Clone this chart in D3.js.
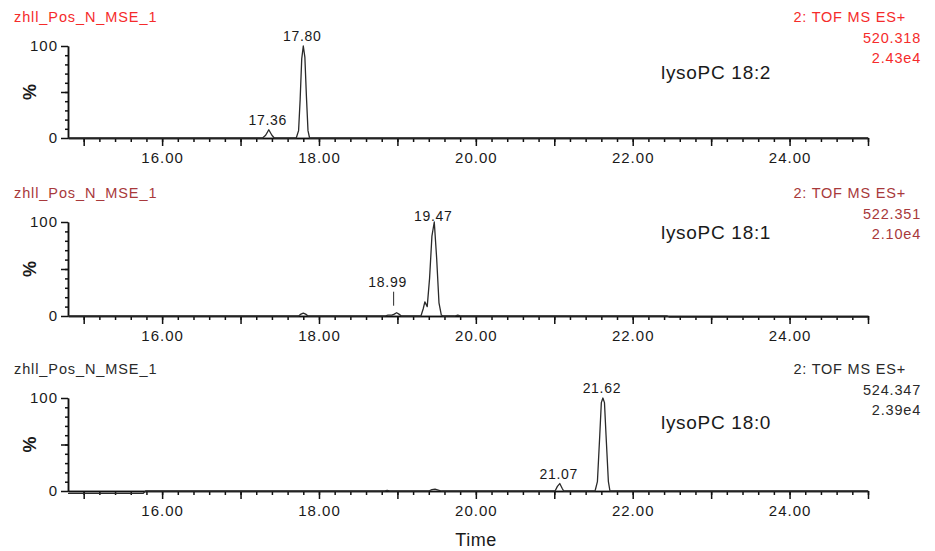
<!DOCTYPE html>
<html lang="en">
<head>
<meta charset="UTF-8">
<title>lysoPC chromatograms</title>
<script src="https://cdn.jsdelivr.net/npm/d3@7"></script>
<style>
  body { margin: 0; background: #fff; }
  text { font-family: "Liberation Sans", Arial, sans-serif; }
</style>
</head>
<body>
<script>
// time range of the x axis (min)
var timeRange = [14.8, 25.0];

// file name, channel info and compound for each trace
var sampleNames = ["zhll_Pos_N_MSE_1", "zhll_Pos_N_MSE_1", "zhll_Pos_N_MSE_1"];
var channels = ["2: TOF MS ES+", "2: TOF MS ES+", "2: TOF MS ES+"];
var masses = ["520.318", "522.351", "524.347"];
var intensities = ["2.43e4", "2.10e4", "2.39e4"];
var compounds = ["lysoPC 18:2", "lysoPC 18:1", "lysoPC 18:0"];

// traces: [time, %]
var trace182 = [[14.80,0],[17.28,0],[17.32,3],[17.36,9],[17.40,3],[17.43,0],[17.71,0],[17.74,8],[17.76,42],[17.78,86],[17.80,100],[17.82,88],[17.84,45],[17.86,8],[17.88,0],[25.00,0]];
var trace181 = [[14.80,0],[17.74,0],[17.77,2],[17.80,3],[17.83,2],[17.86,0],[18.84,0],[18.88,1],[18.93,1],[18.96,2],[18.99,3.5],[19.02,2],[19.05,0],[19.30,0],[19.33,8],[19.35,15],[19.38,10],[19.41,40],[19.44,85],[19.47,100],[19.50,62],[19.53,14],[19.56,1],[19.58,0],[19.73,0],[19.77,1],[19.81,0],[22.44,0],[22.47,-1.2],[25.00,-1.2]];
var trace180 = [[14.80,-2.5],[15.76,-2.5],[15.79,0],[18.84,0],[18.87,0.6],[18.90,0],[19.40,0],[19.44,1.5],[19.48,2],[19.52,1],[19.56,0],[21.01,0],[21.04,5],[21.07,8],[21.10,3],[21.12,0],[21.52,0],[21.55,10],[21.58,60],[21.60,95],[21.62,100],[21.64,95],[21.66,60],[21.69,10],[21.71,0],[25.00,0]];
var traces = [trace182, trace181, trace180];

// annotated peaks: [time, %]
var peaks182 = [[17.36, 9], [17.80, 100]];
var peaks181 = [[18.99, 3.5], [19.47, 100]];
var peaks180 = [[21.07, 8], [21.62, 100]];
var peakLabels = [peaks182, peaks181, peaks180];

var xMajorTicks = d3.range(15, 25.01, 1);
var xMinorTicks = d3.range(15, 25.01, 0.2);
var yMinorTicks = d3.range(10, 100, 10);

var width = 935, height = 551;
var titleColors = ["#f52b2b", "#a8393b", "#2a2a2a"];
var panelTops = [46, 222, 398];
var panelBottoms = [138, 316, 491];

var svg = d3.select("body").append("svg")
  .attr("width", width)
  .attr("height", height);

var x = d3.scaleLinear().domain(timeRange).range([68, 868]);

traces.forEach(function(trace, i) {
  var y = d3.scaleLinear().domain([0, 100]).range([panelBottoms[i], panelTops[i]]);
  var g = svg.append("g");
  var axisY = panelBottoms[i];

  // header texts
  g.append("text").attr("x", 14).attr("y", panelTops[i] - 24)
    .attr("font-size", 14.5).attr("letter-spacing", 0.9)
    .attr("fill", titleColors[i]).text(sampleNames[i]);
  var right = g.append("text").attr("text-anchor", "end")
    .attr("font-size", 14.5).attr("letter-spacing", 0.8).attr("fill", titleColors[i]);
  right.append("tspan").attr("x", 906).attr("y", panelTops[i] - 24).text(channels[i]);
  right.append("tspan").attr("x", 921).attr("y", panelTops[i] - 3).text(masses[i]);
  right.append("tspan").attr("x", 921).attr("y", panelTops[i] + 17).text(intensities[i]);

  g.append("text").attr("x", 661).attr("y", panelTops[i] + (i === 2 ? 31 : i === 1 ? 17 : 33))
    .attr("font-size", 19).attr("letter-spacing", 0.7)
    .attr("fill", "#1a1a1a").text(compounds[i]);

  // x axis: minor + major ticks
  var xMinor = g.append("g").attr("transform", "translate(0," + axisY + ")")
    .call(d3.axisBottom(x).tickValues(xMinorTicks).tickSize(4).tickSizeOuter(0).tickFormat(""));
  var xMajor = g.append("g").attr("transform", "translate(0," + axisY + ")")
    .call(d3.axisBottom(x).tickValues(xMajorTicks).tickSize(8).tickSizeOuter(0).tickPadding(6)
      .tickFormat(function(d) { return d % 2 === 0 ? d.toFixed(2) : ""; }));

  // y axis
  var yMinor = g.append("g").attr("transform", "translate(68,0)")
    .call(d3.axisLeft(y).tickValues(yMinorTicks).tickSize(3).tickSizeOuter(0).tickFormat(""));
  var yMajor = g.append("g").attr("transform", "translate(68,0)")
    .call(d3.axisLeft(y).tickValues([0, 50, 100]).tickSize(7).tickSizeOuter(0).tickPadding(3)
      .tickFormat(function(d) { return d === 50 ? "" : d; }));

  [xMinor, xMajor, yMinor, yMajor].forEach(function(a) {
    a.selectAll("path,line").attr("stroke", "#111").attr("stroke-width", 1.5);
    a.selectAll("text").attr("font-size", 15).attr("letter-spacing", 1).attr("fill", "#1a1a1a")
      .attr("font-family", "'Liberation Sans', Arial, sans-serif");
  });

  g.append("text")
    .attr("transform", "translate(36," + (panelTops[i] + panelBottoms[i]) / 2 + ") rotate(-90)")
    .attr("text-anchor", "middle").attr("font-size", 18).attr("font-weight", "bold")
    .attr("fill", "#1a1a1a").text("%");

  // trace
  var line = d3.line()
    .x(function(d) { return x(d[0]); })
    .y(function(d) { return y(d[1]); });
  g.append("path").datum(trace)
    .attr("d", line)
    .attr("fill", "none")
    .attr("stroke", "#2a2a2a")
    .attr("stroke-width", 1.3)
    .attr("stroke-linejoin", "round");

  // peak labels
  peakLabels[i].forEach(function(p) {
    var small = p[1] < 50;
    var px = x(p[0]), py = y(p[1]);
    if (i === 1 && small) {
      g.append("line").attr("x1", px - 3).attr("x2", px - 3)
        .attr("y1", py - 21).attr("y2", py - 7)
        .attr("stroke", "#2a2a2a").attr("stroke-width", 1);
      py = py - 26;
    } else {
      py = py - (small ? 5 : (i === 1 ? 1 : 5));
    }
    g.append("text").attr("x", px - (i === 1 && small ? 9 : 1)).attr("y", py)
      .attr("text-anchor", "middle").attr("font-size", 14).attr("letter-spacing", 0.7)
      .attr("fill", "#1a1a1a").text(p[0].toFixed(2));
  });
});

svg.append("text").attr("x", 476).attr("y", 546)
  .attr("text-anchor", "middle").attr("font-size", 18).attr("letter-spacing", 0.5)
  .attr("fill", "#1a1a1a").text("Time");
</script>
</body>
</html>
